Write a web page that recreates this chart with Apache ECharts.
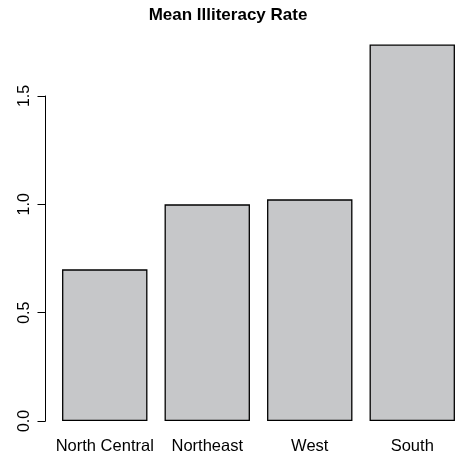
<!DOCTYPE html>
<html><head><meta charset="utf-8">
<script src="https://cdn.jsdelivr.net/npm/echarts@6/dist/echarts.min.js"></script>
<style>html,body{margin:0;padding:0;background:#fff}#c{width:455px;height:455px}</style>
</head><body><div id="c"></div>
<script>
const categories = ['North Central', 'Northeast', 'West', 'South'];
const illiteracy = [0.7, 1.0, 1.0231, 1.7375];
const yTicks = [0, 0.5, 1.0, 1.5];
const titleText = 'Mean Illiteracy Rate';

const chart = echarts.init(document.getElementById('c'), null, {renderer: 'canvas'});
const font = 'Liberation Sans, Arial, Helvetica, sans-serif';
chart.setOption({
  animation: false,
  backgroundColor: '#ffffff',
  title: {
    text: titleText, left: 223, top: 2, textAlign: 'center',
    textStyle: {fontFamily: font, fontWeight: 'bold', fontSize: 17, color: '#000'}
  },
  grid: [
    {left: 53.5, width: 410, top: 31, bottom: 34, outerBoundsMode: 'none', containLabel: false},
    {left: 45.5, width: 100, top: 96, bottom: 34, outerBoundsMode: 'none', containLabel: false}
  ],
  xAxis: [
    {type: 'category', gridIndex: 0, data: categories,
     axisLine: {show: false}, axisTick: {show: false},
     axisLabel: {fontFamily: font, fontSize: 16.5, color: '#000', margin: 17, interval: 0}},
    {type: 'value', gridIndex: 1, show: false, min: 0, max: 1}
  ],
  yAxis: [
    {type: 'value', gridIndex: 0, min: 0, max: 1.8, show: false},
    {type: 'value', gridIndex: 1, min: yTicks[0], max: yTicks[yTicks.length - 1], interval: 0.5,
     axisLine: {show: true, lineStyle: {color: '#000', width: 1}},
     axisTick: {show: true, length: 8, lineStyle: {color: '#000', width: 1}},
     splitLine: {show: false},
     axisLabel: {fontFamily: font, fontSize: 16, color: '#000', rotate: 90, margin: 13,
       formatter: v => v.toFixed(1)}}
  ],
  series: [{
    type: 'bar', xAxisIndex: 0, yAxisIndex: 0,
    data: illiteracy, barCategoryGap: '16.67%',
    itemStyle: {color: '#c6c7c9', borderColor: '#000', borderWidth: 1.3}
  }]
});
</script></body></html>
